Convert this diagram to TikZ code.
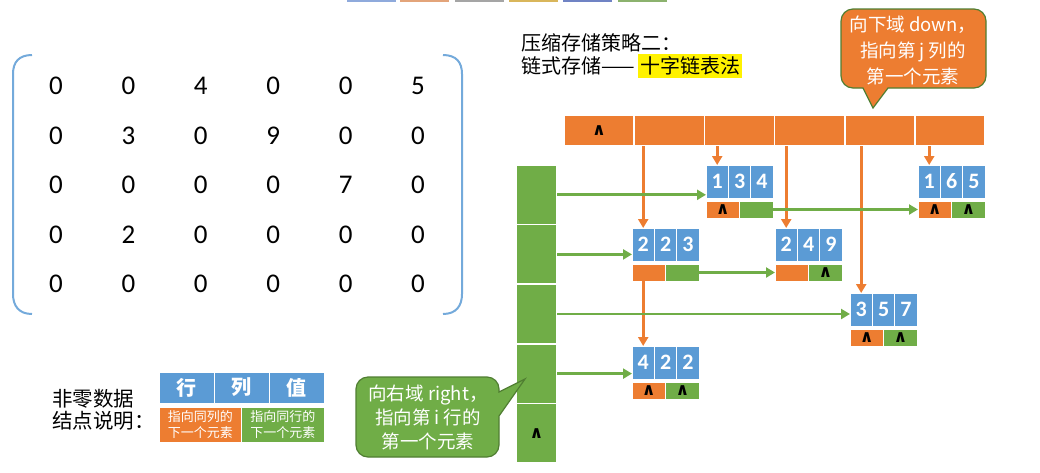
\documentclass[tikz,border=0pt]{standalone}
\usepackage{fontspec}
\setmainfont{Carlito}
\newfontfamily\cjk{Noto Sans CJK SC}
\newfontfamily\symfont{DejaVu Sans}
\usepackage{xcolor}
\usetikzlibrary{arrows.meta,positioning,calc,matrix}
\definecolor{sblue}{HTML}{5B9BD5}
\definecolor{sorange}{HTML}{ED7D31}
\definecolor{sgreen}{HTML}{70AD47}
\definecolor{cborder}{HTML}{507E32}
\definecolor{tabA}{HTML}{8FAADC}
\definecolor{tabB}{HTML}{E3A47A}
\definecolor{tabC}{HTML}{A5A5A5}
\definecolor{tabD}{HTML}{D9B65B}
\definecolor{tabE}{HTML}{7083C4}
\definecolor{tabF}{HTML}{8CB26E}

\tikzset{
  cellb/.style={fill=sblue, draw=white, line width=1pt, minimum width=22.4pt,
    minimum height=33pt, inner sep=0pt, outer sep=0pt, text=white,
    font=\bfseries\fontsize{22}{22}\selectfont},
  celld/.style={fill=sorange, draw=white, line width=1pt, minimum width=33.6pt,
    minimum height=17pt, inner sep=0pt, outer sep=0pt,
    font=\symfont\bfseries\fontsize{17}{17}\selectfont},
  cellr/.style={celld, fill=sgreen},
  colhead/.style={fill=sorange, draw=white, line width=1.5pt, minimum width=70.2pt,
    minimum height=31pt, inner sep=0pt, outer sep=0pt,
    font=\symfont\bfseries\fontsize{17}{17}\selectfont},
  rowhead/.style={colhead, fill=sgreen, minimum width=41pt, minimum height=59.6pt},
  dn/.style={draw=sorange, line width=2.8pt, -{Triangle[length=9pt,width=10pt]}},
  rt/.style={draw=sgreen, line width=2.8pt, -{Triangle[length=9pt,width=10pt]}},
  brk/.style={draw=sblue!85, line width=2pt},
  callO/.style={fill=sorange, draw=cborder, line width=1.2pt},
  callG/.style={fill=sgreen, draw=cborder, line width=1.2pt},
  legb/.style={fill=sblue, draw=white, line width=1pt, minimum width=55pt,
    minimum height=31pt, inner sep=0pt, outer sep=0pt, text=white,
    font=\cjk\bfseries\fontsize{20}{20}\selectfont},
  legd/.style={fill=sorange, draw=white, line width=1pt, minimum width=82.5pt,
    minimum height=35pt, inner sep=0pt, outer sep=0pt, text=white, align=center,
    font=\cjk\fontsize{13}{16.5}\selectfont},
}

% one non-zero element: row, column, value, down, right
\newcommand{\olnode}[8]{%
  \node[cellb, anchor=north west] (#1i) at (#2,#3) {#4};
  \node[cellb, right=0pt of #1i] (#1j) {#5};
  \node[cellb, right=0pt of #1j] (#1v) {#6};
  \node[celld, anchor=north west] (#1d) at ([yshift=-3pt]#1i.south west) {#7};
  \node[cellr, anchor=north east] (#1r) at ([yshift=-3pt]#1v.south east) {#8};
}

\begin{document}
\begin{tikzpicture}[x=1pt, y=-1pt]
  \useasboundingbox (0,0) rectangle (1040,472);

  % tabs at the top edge
  \foreach \x/\c in {347/tabA, 400/tabB, 455/tabC, 509/tabD, 563/tabE, 618/tabF}
    \fill[\c] (\x,0) rectangle ++(49,2);

  % the sparse matrix
  \matrix (sm) [matrix of nodes, nodes={minimum width=72.4pt, minimum height=49.5pt,
      inner sep=0pt, font=\fontsize{27}{27}\selectfont}] at (237,185) {
    0 & 0 & 4 & 0 & 0 & 5 \\
    0 & 3 & 0 & 9 & 0 & 0 \\
    0 & 0 & 0 & 0 & 7 & 0 \\
    0 & 2 & 0 & 0 & 0 & 0 \\
    0 & 0 & 0 & 0 & 0 & 0 \\
  };
  \draw[brk] (32,55) .. controls (19,55) and (13,62) .. (13,74) -- (13,294)
    .. controls (13,306) and (19,314) .. (32,314);
  \draw[brk] (443,55) .. controls (456,55) and (462,62) .. (462,74) -- (462,294)
    .. controls (462,306) and (456,314) .. (443,314);

  % title
  \node[font=\cjk\fontsize{20}{20}\selectfont, anchor=west, inner sep=0pt] (title1) at (521,43) {压缩存储策略二：};
  \node[font=\cjk\fontsize{20}{20}\selectfont, anchor=west, inner sep=0pt] (title2) at (521,66) {链式存储——};
  \node[font=\cjk\fontsize{20}{20}\selectfont, fill=yellow, inner xsep=2pt, inner ysep=3pt, anchor=base west] (title3) at ([xshift=3pt]title2.base east) {十字链表法};

  % column heads
  \node[colhead, anchor=north west] (c1) at (564,115) {∧};
  \node[colhead, right=0pt of c1] (c2) {};
  \node[colhead, right=0pt of c2] (c3) {};
  \node[colhead, right=0pt of c3] (c4) {};
  \node[colhead, right=0pt of c4] (c5) {};
  \node[colhead, right=0pt of c5] (c6) {};

  % row heads
  \node[rowhead, anchor=north west] (h1) at (516,165) {};
  \node[rowhead, below=0pt of h1] (h2) {};
  \node[rowhead, below=0pt of h2] (h3) {};
  \node[rowhead, below=0pt of h3] (h4) {};
  \node[rowhead, below=0pt of h4] (h5) {∧};

  % elements
  \olnode{n134}{706}{165}{1}{3}{4}{∧}{}
  \olnode{n165}{918}{165}{1}{6}{5}{∧}{∧}
  \olnode{n223}{632}{228}{2}{2}{3}{}{}
  \olnode{n249}{775}{228}{2}{4}{9}{}{∧}
  \olnode{n357}{850}{293}{3}{5}{7}{∧}{∧}
  \olnode{n422}{632}{346}{4}{2}{2}{∧}{∧}

  % down links
  \draw[dn] (c2.south -| n223i.north) -- (n223i.north);
  \draw[dn] (c3.south -| n134i.north) -- (n134i.north);
  \draw[dn] (c4.south -| n249i.north) -- (n249i.north);
  \draw[dn] (c5.south -| n357i.north) -- (n357i.north);
  \draw[dn] (c6.south -| n165i.north) -- (n165i.north);
  \draw[dn] (n223d.south -| n422i.north) -- (n422i.north);

  % right links
  \draw[rt] (h1.east) -- (h1.east -| n134i.west);
  \draw[rt] (h2.east) -- (h2.east -| n223i.west);
  \draw[rt] (h3.east) -- (h3.east -| n357i.west);
  \draw[rt] (h4.east) -- (h4.east -| n422i.west);
  \draw[rt] (n134r.east) -- (n165d.west);
  \draw[rt] (n223r.east) -- (n249d.west);

  % callouts
  \draw[callO] (853,9) -- (974,9) arc[start angle=-90, end angle=0, radius=12]
    -- (986,76) arc[start angle=0, end angle=90, radius=12]
    -- (888,88) -- (873,108) -- (863,88) -- (853,88)
    arc[start angle=90, end angle=180, radius=12]
    -- (841,21) arc[start angle=180, end angle=270, radius=12] -- cycle;
  \node[font=\cjk\fontsize{18.5}{26}\selectfont, text=white, align=center] (downnote) at (913,50)
    {向下域 down，\\指向第 j 列的\\第一个元素};

  \draw[callG] (368,377) -- (487,377) arc[start angle=-90, end angle=0, radius=12]
    -- (499,392) -- (525,379) -- (499,416) -- (499,445)
    arc[start angle=0, end angle=90, radius=12]
    -- (368,457) arc[start angle=90, end angle=180, radius=12]
    -- (356,389) arc[start angle=180, end angle=270, radius=12] -- cycle;
  \node[font=\cjk\fontsize{18.5}{24}\selectfont, text=white, align=center] (rightnote) at (428,417)
    {向右域 right，\\指向第 i 行的\\第一个元素};

  % legend
  \node[font=\cjk\fontsize{20.5}{22}\selectfont, align=left, anchor=west, inner sep=0pt] (legtitle) at (52,410)
    {非零数据\\结点说明：};
  \node[legb, anchor=north west] (lrow) at (159,372) {行};
  \node[legb, right=0pt of lrow] (lcol) {列};
  \node[legb, right=0pt of lcol] (lval) {值};
  \node[legd, anchor=north west] (ldown) at (159,407) {指向同列的\\下一个元素};
  \node[legd, fill=sgreen, right=0pt of ldown] (lright) {指向同行的\\下一个元素};
\end{tikzpicture}
\end{document}
